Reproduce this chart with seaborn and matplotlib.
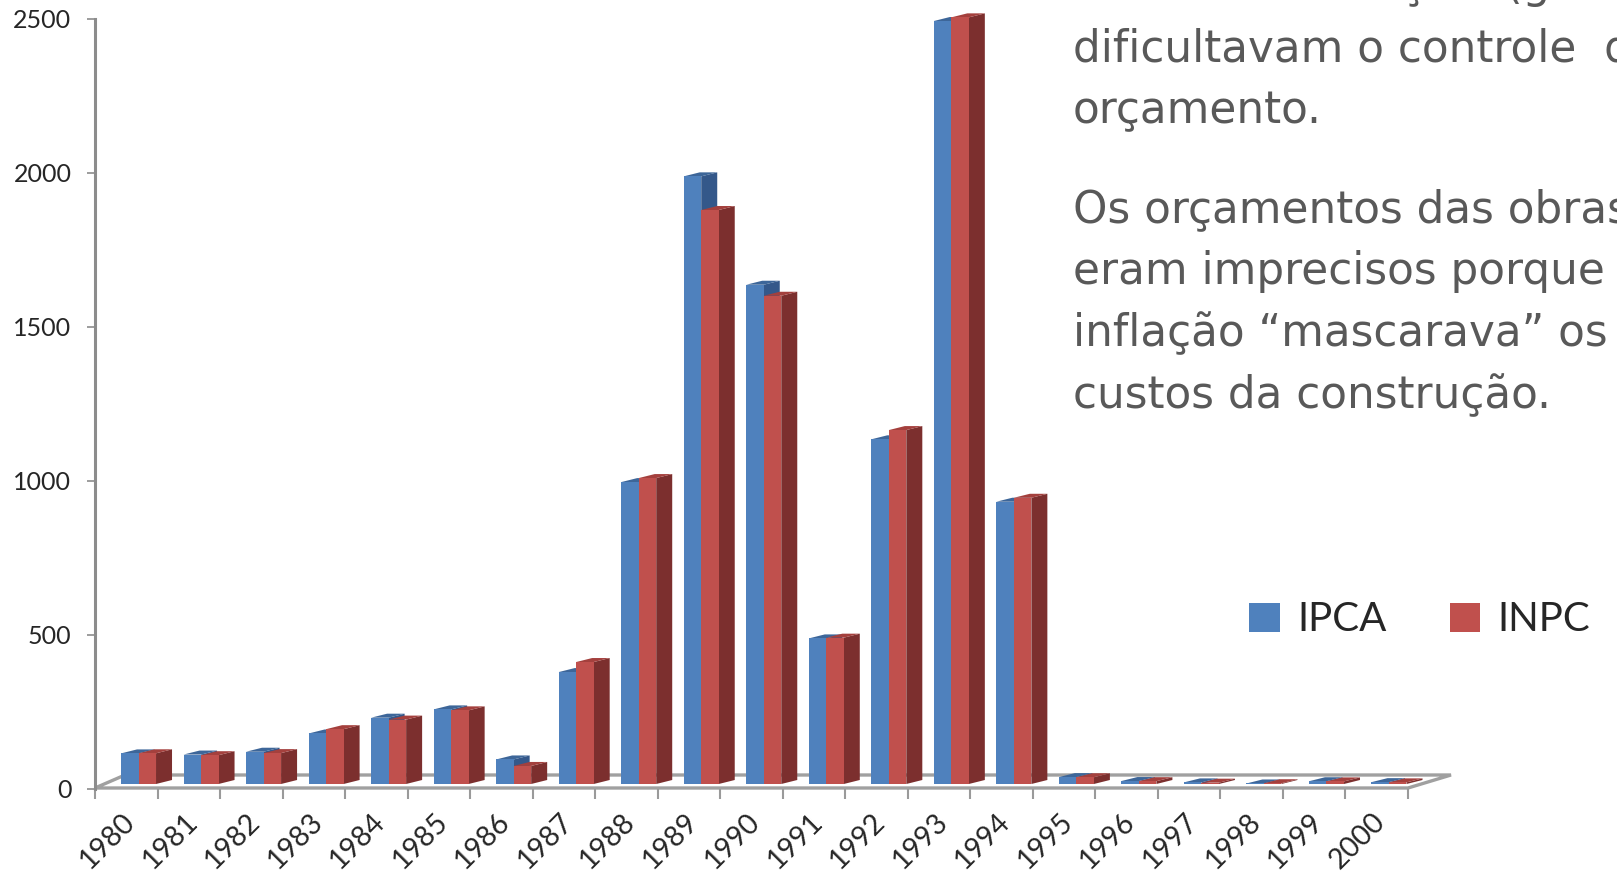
import numpy as np
import pandas as pd
import matplotlib
matplotlib.use("Agg")
import matplotlib.pyplot as plt
from matplotlib.patches import Polygon, Patch
import seaborn as sns

# Annual inflation (%) - IPCA and INPC, 1980-2000
years = [str(y) for y in range(1980, 2001)]
ipca = [99.3, 95.6, 104.8, 164.0, 215.3, 242.2, 79.7, 363.4, 980.2, 1972.9,
        1621.0, 472.7, 1119.1, 2477.2, 916.5, 22.4, 9.6, 5.2, 1.7, 8.9, 6.0]
inpc = [99.7, 93.5, 100.3, 178.0, 209.1, 239.1, 58.6, 396.0, 993.3, 1863.6,
        1585.2, 475.1, 1149.1, 2489.1, 929.3, 22.0, 9.1, 4.3, 2.5, 8.4, 5.3]
series = ["IPCA", "INPC"]
yticks = [0, 500, 1000, 1500, 2000, 2500]

text_top = "As taxas de inflação  (gerais)"
text_lines = ["dificultavam o controle  do", "orçamento.",
              "Os orçamentos das obras", "eram imprecisos porque a",
              "inflação “mascarava” os", "custos da construção."]

df = pd.DataFrame({
    "Ano": years * 2,
    "Indice": ["IPCA"] * len(years) + ["INPC"] * len(years),
    "Valor": ipca + inpc,
})

sns.set_theme(style="white")
plt.rcParams["font.family"] = ["Lato", "DejaVu Sans"]

front = {"IPCA": "#4F81BD", "INPC": "#C0504D"}
side = {"IPCA": "#34588A", "INPC": "#7C2F2E"}
top = {"IPCA": "#3D6699", "INPC": "#A4403D"}

W, H = 1617, 875
fig = plt.figure(figsize=(W / 100, H / 100), dpi=100)
ax = fig.add_axes([95 / W, 1 - 789 / H, 1313 / W, 770 / H])

sns.barplot(data=df, x="Ano", y="Valor", hue="Indice", hue_order=series,
            palette=front, width=0.56, saturation=1, ax=ax, legend=False,
            edgecolor="none")

ax.set_xlim(-0.696, 20.304)
ax.set_ylim(0, 2500)
ax.set_xlabel("")
ax.set_ylabel("")
for s in ["top", "right", "bottom"]:
    ax.spines[s].set_visible(False)
ax.spines["left"].set_color("#8C8C8C")
ax.spines["left"].set_linewidth(2.2)

ax.set_yticks(yticks)
ax.set_yticklabels([str(v) for v in yticks], fontsize=18)
ax.tick_params(axis="y", length=6, width=1.2, color="#8C8C8C", pad=11,
               left=True, direction="out")

ax.set_xticks(np.arange(len(years)) - 0.27)
ax.set_xticklabels(years, fontsize=20.5, rotation=45, ha="right",
                   va="top", rotation_mode="anchor")
ax.set_xticks(np.arange(len(years) + 1) - 0.696, minor=True)
ax.tick_params(axis="x", which="major", length=0, pad=14)
ax.tick_params(axis="x", which="minor", length=7, width=1.5,
               color="#9A9A9A", direction="out", bottom=True)

fig.canvas.draw()

# 3D floor (display pixels)
def px(x, y):
    return (x, H - y)

floor = Polygon([px(95, 788), px(1408, 788), px(1451, 775), px(125, 775)],
                closed=True, fill=False, edgecolor="#A0A0A0", linewidth=2.4,
                transform=None, zorder=0.5, clip_on=False)
ax.add_artist(floor)

# side and top faces of the bars, built from the seaborn patches
dx, dy = 16, 4
nb = len(years)
bars = [p for p in ax.patches if p is not floor]
for k, bar in enumerate(bars):
    name = series[k // nb]
    x0, y0 = bar.get_x(), bar.get_y()
    x1, y1 = x0 + bar.get_width(), y0 + bar.get_height()
    (X0, Y0), (X1, Y1) = ax.transData.transform([(x0, y0), (x1, y1)])
    Y0 += 5  # bars stand slightly behind the floor front edge
    Y1 += 5
    zb = 1 if name == "IPCA" else 3
    fr = Polygon([(X0, Y0), (X1, Y0), (X1, Y1), (X0, Y1)], closed=True,
                 facecolor=front[name], edgecolor="none", transform=None,
                 zorder=zb + 1, clip_on=False)
    sp = Polygon([(X1, Y0), (X1 + dx, Y0 + dy), (X1 + dx, Y1 + dy), (X1, Y1)],
                 closed=True, facecolor=side[name], edgecolor="none",
                 transform=None, zorder=zb, clip_on=False)
    tp = Polygon([(X0, Y1), (X1, Y1), (X1 + dx, Y1 + dy), (X0 + dx, Y1 + dy)],
                 closed=True, facecolor=top[name], edgecolor="none",
                 transform=None, zorder=zb, clip_on=False)
    bar.set_visible(False)
    for p in (sp, tp, fr):
        ax.add_artist(p)

# legend
handles = [Patch(facecolor=front[s], edgecolor="none", label=s) for s in series]
fig.legend(handles=handles, loc="center", bbox_to_anchor=(1420 / W, 1 - 620 / H),
           ncol=2, frameon=False, fontsize=29, handlelength=0.75,
           handleheight=0.75, handletextpad=0.45, columnspacing=1.55)

# slide text on the right
tx = 1073 / W
fam = ["DejaVu Sans"]
tsize = 31.5

# first line sits above the slide edge; only its descenders show
probe = fig.text(0, 0, "As taxas de infla", fontsize=tsize, family=fam)
wpre = probe.get_window_extent(fig.canvas.get_renderer()).width
probe.remove()
fig.text((1400 - wpre) / W, 1 + 2 / H, text_top, fontsize=tsize,
         color="#595959", family=fam, va="baseline")

baselines = [62, 123, 222, 284, 346, 408]
for line, b in zip(text_lines, baselines):
    fig.text(tx, 1 - b / H, line, fontsize=tsize, color="#595959",
             family=fam, va="baseline")

fig.savefig("out.png", dpi=100)
